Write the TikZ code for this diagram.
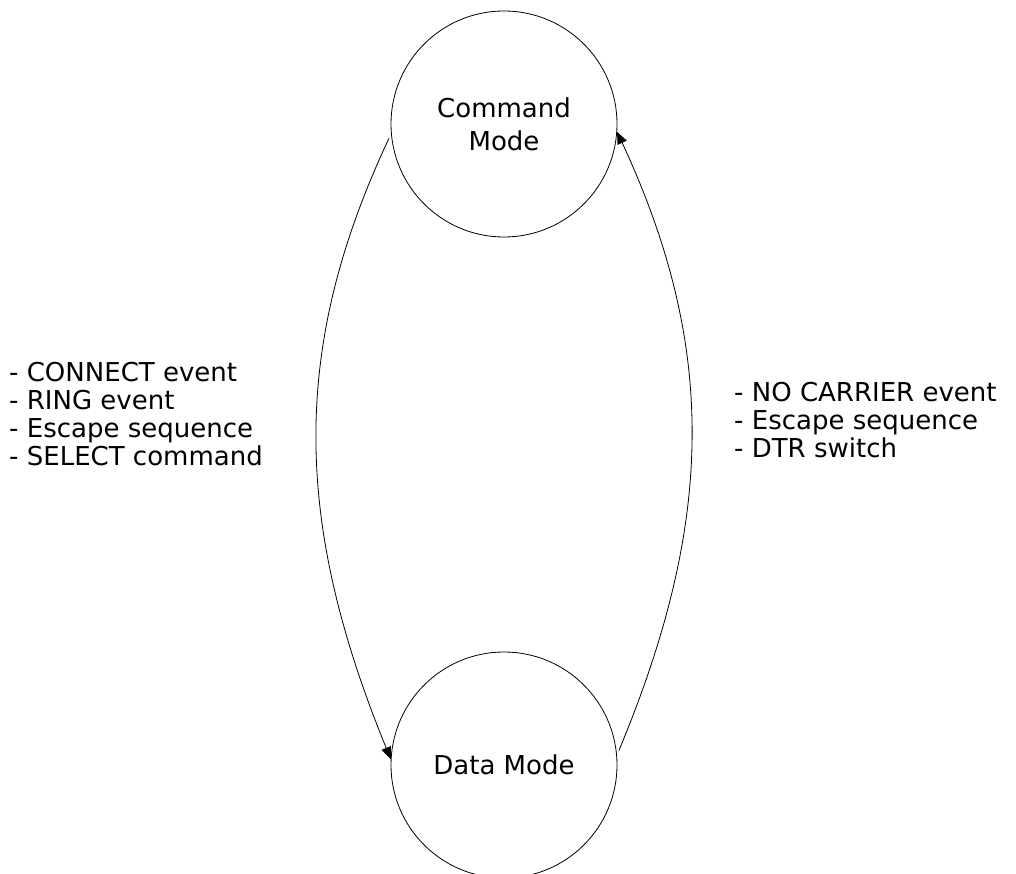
\documentclass[tikz,border=0pt]{standalone}
\usepackage{fontspec}
\setmainfont{DejaVu Sans}
\usetikzlibrary{arrows.meta}
\begin{document}
\begin{tikzpicture}[x=1pt,y=-1pt,
  state/.style={draw,circle,line width=0.8pt,minimum size=226pt,inner sep=0pt,align=center,font=\fontsize{26}{33}\selectfont},
  lbl/.style={anchor=west,align=left,inner sep=0pt,font=\fontsize{26}{28}\selectfont},
  trans/.style={line width=0.8pt,-{Triangle[length=12pt,width=10pt]}}]
\useasboundingbox (0,0) rectangle (1016,874);
\node[state] (cmd) at (504,124) {Command\\Mode};
\node[state] (data) at (504,765) {Data Mode};
\draw[trans,shorten <=5pt] (cmd.185) .. controls (292,345) and (292,518) .. (data.177);
\draw[trans,shorten <=5pt] (data.5) .. controls (716,518) and (716,345) .. (cmd.356);
\node[lbl] (left) at (9,414) {- CONNECT event\\- RING event\\- Escape sequence\\- SELECT command};
\node[lbl] (right) at (734,420) {- NO CARRIER event\\- Escape sequence\\- DTR switch};
\end{tikzpicture}
\end{document}
